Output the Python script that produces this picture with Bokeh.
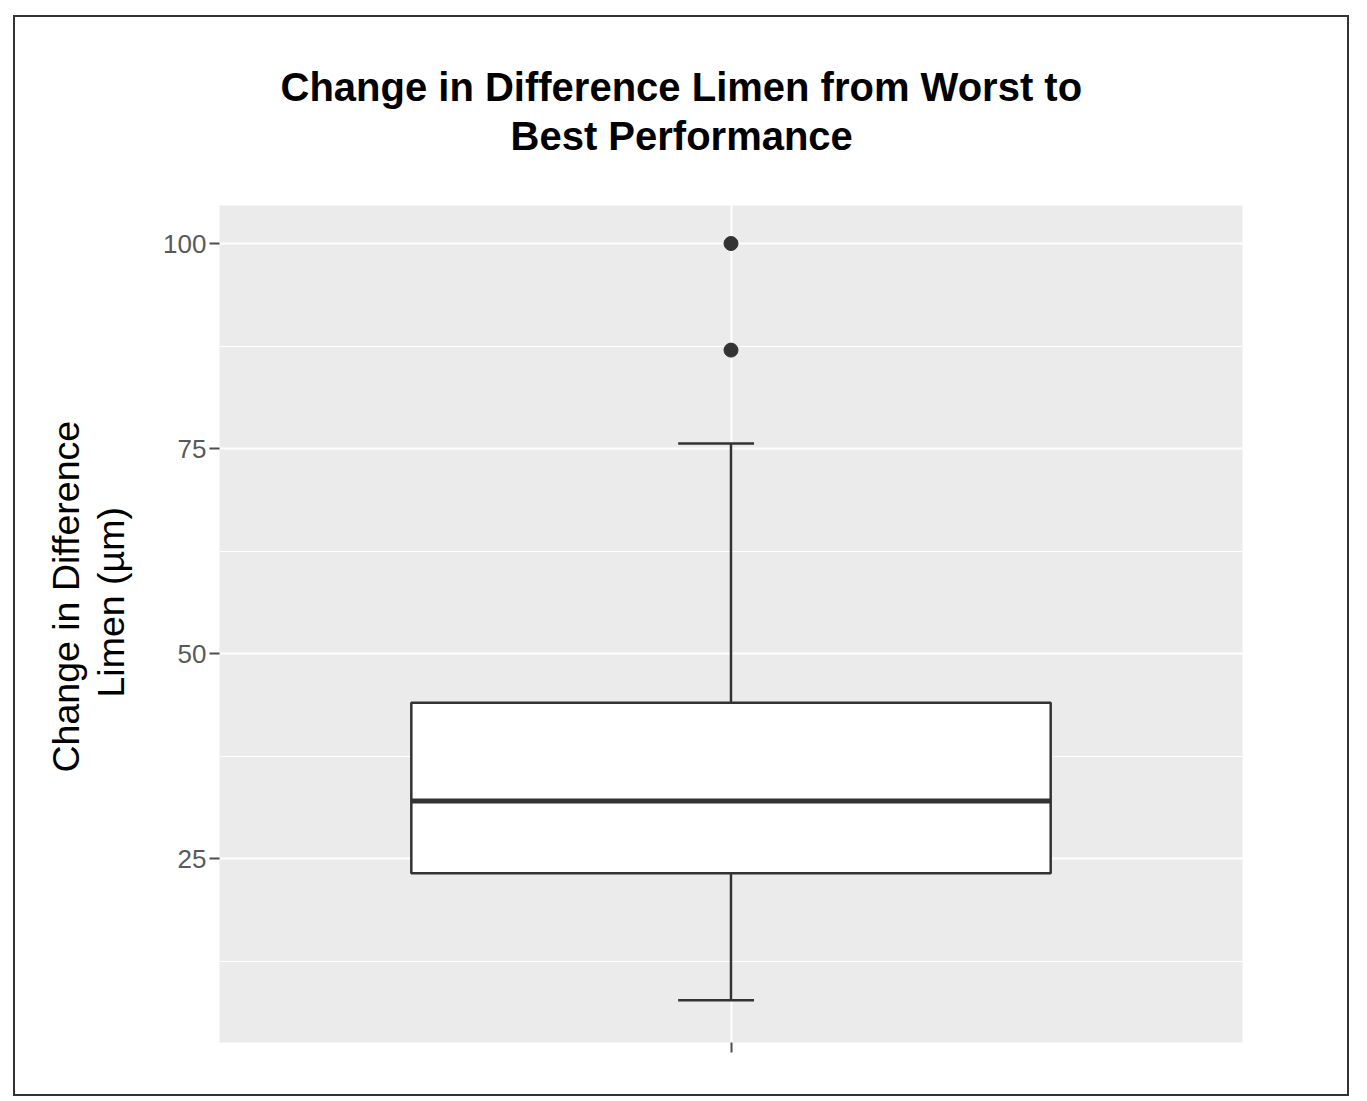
from bokeh.plotting import figure
from bokeh.models import FixedTicker, Range1d, Title
from bokeh.embed import file_html
from bokeh.resources import INLINE

# ---- data ----
categories = [1.0]           # single group, drawn at x = 1
q1_vals = [23.2]
median_vals = [32.0]
q3_vals = [44.0]
whisker_low = [7.7]
whisker_high = [75.6]
outlier_x = [1.0, 1.0]
outlier_y = [100.0, 87.0]
y_ticks = [25, 50, 75, 100]
y_minor = [12.5, 37.5, 62.5, 87.5]

title_lines = ["Change in Difference Limen from Worst to", "Best Performance"]
ylabel_lines = ["Change in Difference", "Limen (µm)"]

# ---- layout constants ----
W, H = 1336, 1081
X0, X1 = 0.4, 1.6
PX_PER_UNIT = 8.2
Y1 = 100 + (243 - 205) / PX_PER_UNIT
Y0 = 25 - (1042 - 858) / PX_PER_UNIT

BOX_W = 0.75
CAP_L, CAP_R = -0.062, 0.027
DARK = "#333333"

p = figure(width=W, height=H, x_range=Range1d(X0, X1), y_range=Range1d(Y0, Y1),
           output_backend="svg", toolbar_location=None,
           min_border_left=204, min_border_top=188,
           min_border_right=109, min_border_bottom=56)
p.styles = {"border": "2px solid #333333", "margin-left": "13px", "margin-top": "15px"}
p.background_fill_color = "#EBEBEB"
p.border_fill_color = "white"
p.outline_line_color = None

def title_line(text, offset, size, bold, standoff):
    return Title(text=text, align="left", offset=offset, text_font="Liberation Sans",
                 text_font_style="bold" if bold else "normal", text_font_size=size,
                 text_color="black", standoff=standoff)

# titles: two lines, each placed so that it is centred over the whole chart
p.title = title_line(title_lines[0], 61, "40px", True, 3)
p.add_layout(title_line(" ", 0, "10px", False, 33), "above")          # spacer
p.add_layout(title_line(title_lines[1], 291, "40px", True, 3), "above")

# y-axis label: two rotated lines
p.add_layout(title_line(" ", 0, "10px", False, 15), "left")           # spacer
p.add_layout(title_line(ylabel_lines[1], 345, "37.5px", False, 1), "left")
p.add_layout(title_line(ylabel_lines[0], 270, "37.5px", False, 1), "left")

# grid
p.xgrid.ticker = FixedTicker(ticks=categories)
p.xgrid.grid_line_color = "white"
p.xgrid.grid_line_width = 2
p.ygrid.ticker = FixedTicker(ticks=y_ticks, minor_ticks=y_minor)
p.ygrid.grid_line_color = "white"
p.ygrid.grid_line_width = 2
p.ygrid.minor_grid_line_color = "white"
p.ygrid.minor_grid_line_width = 1.2

# axes
p.yaxis.ticker = FixedTicker(ticks=y_ticks)
p.yaxis.axis_line_color = None
p.yaxis.major_tick_line_color = "#4D4D4D"
p.yaxis.major_tick_line_width = 2
p.yaxis.major_tick_out = 10
p.yaxis.major_tick_in = 0
p.yaxis.minor_tick_line_color = None
p.yaxis.major_label_text_font = "Liberation Sans"
p.yaxis.major_label_text_font_size = "26px"
p.yaxis.major_label_text_color = "#595959"
p.yaxis.major_label_standoff = 3

p.xaxis.ticker = FixedTicker(ticks=categories)
p.xaxis.major_label_overrides = {1: ""}
p.xaxis.axis_line_color = None
p.xaxis.major_tick_line_color = "#4D4D4D"
p.xaxis.major_tick_line_width = 2
p.xaxis.major_tick_out = 10
p.xaxis.major_tick_in = 0
p.xaxis.minor_tick_line_color = None

# whiskers
p.segment(x0=categories, y0=q3_vals, x1=categories, y1=whisker_high, line_color=DARK, line_width=2.5)
p.segment(x0=categories, y0=whisker_low, x1=categories, y1=q1_vals, line_color=DARK, line_width=2.5)
# caps
cap_x0 = [c + CAP_L for c in categories]
cap_x1 = [c + CAP_R for c in categories]
p.segment(x0=cap_x0, y0=whisker_high, x1=cap_x1, y1=whisker_high, line_color=DARK, line_width=2.5)
p.segment(x0=cap_x0, y0=whisker_low, x1=cap_x1, y1=whisker_low, line_color=DARK, line_width=2.5)
# box
p.vbar(x=categories, width=BOX_W, bottom=q1_vals, top=q3_vals, fill_color="white",
       line_color=DARK, line_width=2.5)
# median
p.segment(x0=[c - BOX_W / 2 for c in categories], y0=median_vals,
          x1=[c + BOX_W / 2 for c in categories], y1=median_vals,
          line_color=DARK, line_width=5)
# outliers
p.scatter(x=outlier_x, y=outlier_y, size=14, fill_color=DARK, line_color=DARK)

open("out.html", "w").write(file_html(p, INLINE))
